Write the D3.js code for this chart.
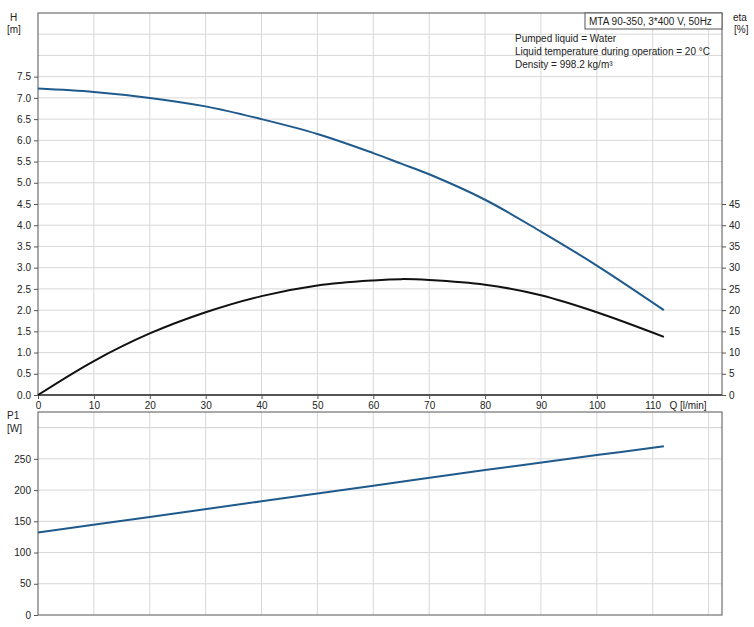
<!DOCTYPE html>
<html><head><meta charset="utf-8">
<script src="https://cdn.jsdelivr.net/npm/d3@7"></script>
<style>body{margin:0;background:#fff}text{font-family:"Liberation Sans",Arial,sans-serif;font-size:10px;fill:#222}</style>
</head><body>
<script>
// data
let flowQ = [0,10,20,30,40,50,60,65,70,80,90,100,112];
let headH = [7.22,7.14,7.0,6.8,6.5,6.15,5.7,5.45,5.2,4.6,3.85,3.05,2.0];
let etaE = [0,8,14.5,19.5,23.3,25.8,27,27.3,27.1,26,23.5,19.5,13.7];
let powerQ = [0,20,40,60,80,100,112];
let powerP = [132,157,182,207,232,256,270];
let hTicks = d3.range(0,7.51,0.5), etaTicks = d3.range(0,46,5), pTicks = [0,50,100,150,200,250];
let qTicks = d3.range(0,111,10);
let notes = ['Pumped liquid = Water','Liquid temperature during operation = 20 °C','Density = 998.2 kg/m³'];

let W=754,H=627;
let svg=d3.select('body').append('svg').attr('width',W).attr('height',H);
let x=d3.scaleLinear().domain([0,122.4]).range([38,722]);
let y=d3.scaleLinear().domain([0,9]).range([395,13]);
let yE=d3.scaleLinear().domain([0,90]).range([395,13]);
let yP=d3.scaleLinear().domain([0,325]).range([615,412]);
let grid='#d8d8d8';

function panel(ys,ticksAll){
  let g=svg.append('g');
  d3.range(10,121,10).forEach(v=>g.append('line').attr('x1',x(v)).attr('x2',x(v)).attr('y1',ys.range()[0]).attr('y2',ys.range()[1]).attr('stroke',grid));
  ticksAll.forEach(v=>g.append('line').attr('x1',x(0)).attr('x2',x(122.4)).attr('y1',ys(v)).attr('y2',ys(v)).attr('stroke',grid));
  g.append('rect').attr('x',x(0)).attr('y',ys.range()[1]).attr('width',x(122.4)-x(0)).attr('height',ys.range()[0]-ys.range()[1]).attr('fill','none').attr('stroke','#555');
}
panel(y,d3.range(0.5,9,0.5));
panel(yP,d3.range(50,325,50).concat([300]));
svg.append('line').attr('x1',x(0)).attr('x2',x(122.4)).attr('y1',395).attr('y2',395).attr('stroke','#555').attr('stroke-width',2);

svg.append('g').attr('transform','translate(38,0)').call(d3.axisLeft(y).tickValues(hTicks).tickFormat(d3.format('.1f')).tickSize(4)).call(g=>g.select('.domain').remove());
svg.append('g').attr('transform','translate(722,0)').call(d3.axisRight(yE).tickValues(etaTicks).tickSize(4)).call(g=>g.select('.domain').remove());
svg.append('g').attr('transform','translate(38,0)').call(d3.axisLeft(yP).tickValues(pTicks).tickSize(4)).call(g=>g.select('.domain').remove());
svg.append('g').attr('transform','translate(0,395)').call(d3.axisBottom(x).tickValues(qTicks).tickSize(4)).call(g=>g.select('.domain').remove());
svg.selectAll('.tick line').attr('stroke','#555');
svg.selectAll('.tick text').style('font-family','"Liberation Sans",Arial,sans-serif').style('font-size','10px').attr('fill','#222');

svg.append('text').attr('x',10).attr('y',21).text('H');
svg.append('text').attr('x',7).attr('y',33).text('[m]');
svg.append('text').attr('x',733).attr('y',21).text('eta');
svg.append('text').attr('x',734).attr('y',33).text('[%]');
svg.append('text').attr('x',7).attr('y',419).text('P1');
svg.append('text').attr('x',7).attr('y',432).text('[W]');
svg.append('text').attr('x',688).attr('y',409).attr('text-anchor','middle').text('Q [l/min]');

svg.append('rect').attr('x',585).attr('y',13).attr('width',137).attr('height',16).attr('fill','#fff').attr('stroke','#555');
svg.append('text').attr('x',589).attr('y',25).text('MTA 90-350, 3*400 V, 50Hz');
notes.forEach((t,i)=>svg.append('text').attr('x',515).attr('y',42+i*13).text(t));

let line=(ys)=>d3.line().x(d=>x(d[0])).y(d=>ys(d[1])).curve(d3.curveCatmullRom);
svg.append('path').attr('d',line(y)(flowQ.map((q,i)=>[q,headH[i]]))).attr('fill','none').attr('stroke','#1f5a8c').attr('stroke-width',2);
svg.append('path').attr('d',line(yE)(flowQ.map((q,i)=>[q,etaE[i]]))).attr('fill','none').attr('stroke','#111').attr('stroke-width',2);
svg.append('path').attr('d',line(yP)(powerQ.map((q,i)=>[q,powerP[i]]))).attr('fill','none').attr('stroke','#1f5a8c').attr('stroke-width',2);
</script>
</body></html>
